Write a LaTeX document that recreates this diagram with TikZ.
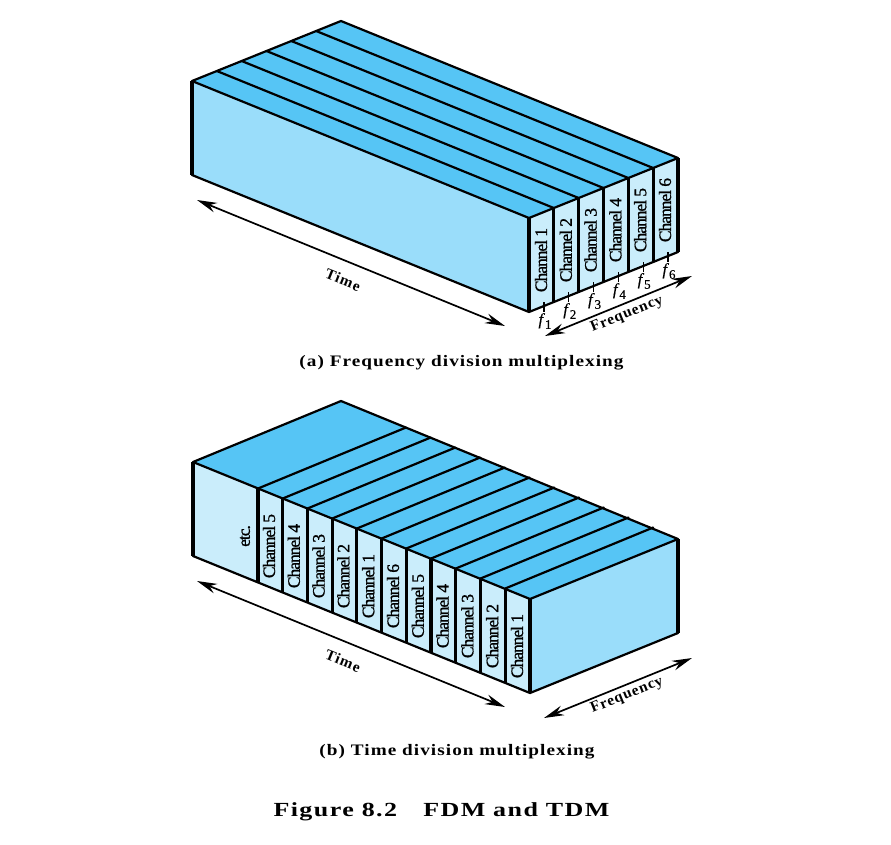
\documentclass[tikz,border=0pt]{standalone}
\usepackage{fontspec}
\setmainfont{Liberation Serif}
\newfontfamily\chanfont[LetterSpace=-6,FakeBold=1]{Liberation Serif}
\newfontfamily\capfont[LetterSpace=5.5]{Liberation Serif}
\newfontfamily\ffont[FakeBold=0.4]{Liberation Serif}
\usetikzlibrary{arrows.meta,calc}
\definecolor{topblue}{HTML}{56C5F5}
\definecolor{sideblue}{HTML}{9ADDFA}
\definecolor{lightblue}{HTML}{CAEDFB}
\tikzset{
  x=1pt,y=-1pt,
  boxface/.style={draw=black,line width=2.2pt,line join=round},
  dividerline/.style={draw=black,line width=2.2pt,line cap=round},
  postline/.style={draw=black,line width=3.2pt},
  tickline/.style={draw=black,line width=1.2pt},
  dimline/.style={draw=black,line width=1.7pt,{Stealth[length=20pt,width=10pt]}-{Stealth[length=20pt,width=10pt]}},
  chantext/.style={rotate=90,inner sep=0pt,font=\chanfont\fontsize{17.5}{18}\selectfont},
  freqtext/.style={inner sep=0pt,font=\ffont\fontsize{16.5}{18}\selectfont},
  axistext/.style={inner sep=0pt,font=\capfont\bfseries\fontsize{15}{16}\selectfont},
  captext/.style={inner sep=0pt,font=\capfont\bfseries\fontsize{16}{17}\selectfont},
  figcaptext/.style={inner sep=0pt,font=\capfont\bfseries\fontsize{20}{22}\selectfont},
}
\newcommand{\ftxt}[1]{\textit{f}\raisebox{-4pt}{\fontsize{13}{13}\selectfont #1}}
\begin{document}
\begin{tikzpicture}
\useasboundingbox (0,0) rectangle (891,844);
% ---------- (a) FDM
\coordinate (aL) at (192,81);
\coordinate (aLb) at (192,175);
\coordinate (aB) at (341,21);
\coordinate (aF) at (529,218);
\coordinate (aFb) at (529,312);
\coordinate (aR) at (678,158);
\coordinate (aRb) at (678,252);
\fill[topblue] (aL) -- (aB) -- (aR) -- (aF) -- cycle;
\fill[sideblue] (aL) -- (aF) -- (aFb) -- (aLb) -- cycle;
\fill[lightblue] (aF) -- (aR) -- (aRb) -- (aFb) -- cycle;
\foreach \i in {1,...,5}{
  \draw[dividerline] ($(529,218)+(\i*24.83,-\i*10)$) -- ++(-337,-137);
  \draw[postline] ($(529,218)+(\i*24.83,-\i*10)$) -- ++(0,94);
}
\foreach \i in {1,...,6}{
  \node[chantext] (ac\i) at ($(541,260)+(\i*24.8-24.8,-\i*10+10)$) {Channel \i};
  \coordinate (at\i) at ($(544,302)+(\i*24.8-24.8,-\i*10+10)$);
  \draw[tickline] (at\i) -- ++(0,10);
  \node[freqtext] (af\i) at ($(545,321)+(\i*24.8-24.8,-\i*10+10)$) {\ftxt{\i}};
}
\draw[boxface] (aL) -- (aB) -- (aR) -- (aRb) -- (aFb) -- (aLb) -- cycle;
\draw[boxface] (aL) -- (aF) -- (aR);
\draw[postline] (aF) -- (aFb);
\draw[postline] (aL) -- (aLb);
\draw[postline] (aR) -- (aRb);
\coordinate (aT1) at (197,200);
\coordinate (aT2) at (505,326);
\draw[dimline] (aT1) -- (aT2);
\node[axistext,rotate=-22] (aTime) at (343,280) {\scalebox{1.03}[1]{Time}};
\coordinate (aQ1) at (545,336);
\coordinate (aQ2) at (692,276);
\draw[dimline] (aQ1) -- (aQ2);
\node[axistext,rotate=22] (aFreq) at (627,314.5) {\scalebox{1.03}[1]{Frequency}};
\node[captext] (acap) at (461.5,362.5) {\scalebox{1.2}[1]{(a) Frequency division multiplexing}};
% ---------- (b) TDM
\coordinate (bL) at (193,462);
\coordinate (bLb) at (193,556);
\coordinate (bB) at (341,401);
\coordinate (bF) at (530,599);
\coordinate (bFb) at (530,693);
\coordinate (bR) at (678,539);
\coordinate (bRb) at (678,633);
\fill[topblue] (bL) -- (bB) -- (bR) -- (bF) -- cycle;
\fill[lightblue] (bL) -- (bF) -- (bFb) -- (bLb) -- cycle;
\fill[sideblue] (bF) -- (bR) -- (bRb) -- (bFb) -- cycle;
\foreach \i in {0,...,10}{
  \draw[dividerline] ($(258,488.5)+(\i*24.72,\i*10)$) -- ++(148,-61);
  \draw[postline] ($(258,488.5)+(\i*24.72,\i*10)$) -- ++(0,94);
}
\foreach \t [count=\i from 0] in {5,4,3,2,1,6,5,4,3,2,1}{
  \node[chantext] (bc\i) at ($(269,546)+(\i*24.8,\i*10)$) {Channel \t};
}
\node[chantext] (betc) at (245,536) {etc.};
\draw[boxface] (bL) -- (bB) -- (bR) -- (bRb) -- (bFb) -- (bLb) -- cycle;
\draw[boxface] (bL) -- (bF) -- (bR);
\draw[postline] (bF) -- (bFb);
\draw[postline] (bL) -- (bLb);
\draw[postline] (bR) -- (bRb);
\coordinate (bT1) at (197,581);
\coordinate (bT2) at (505,707);
\draw[dimline] (bT1) -- (bT2);
\node[axistext,rotate=-22] (bTime) at (343,661) {\scalebox{1.03}[1]{Time}};
\coordinate (bQ1) at (544,718);
\coordinate (bQ2) at (692,658);
\draw[dimline] (bQ1) -- (bQ2);
\node[axistext,rotate=22] (bFreq) at (627,695.5) {\scalebox{1.03}[1]{Frequency}};
\node[captext] (bcap) at (457,752) {\scalebox{1.2}[1]{(b) Time division multiplexing}};
\node[figcaptext] (fig) at (441.5,812) {\scalebox{1.3}[1]{Figure 8.2\hspace{0.7em} FDM and TDM}};
\end{tikzpicture}
\end{document}
